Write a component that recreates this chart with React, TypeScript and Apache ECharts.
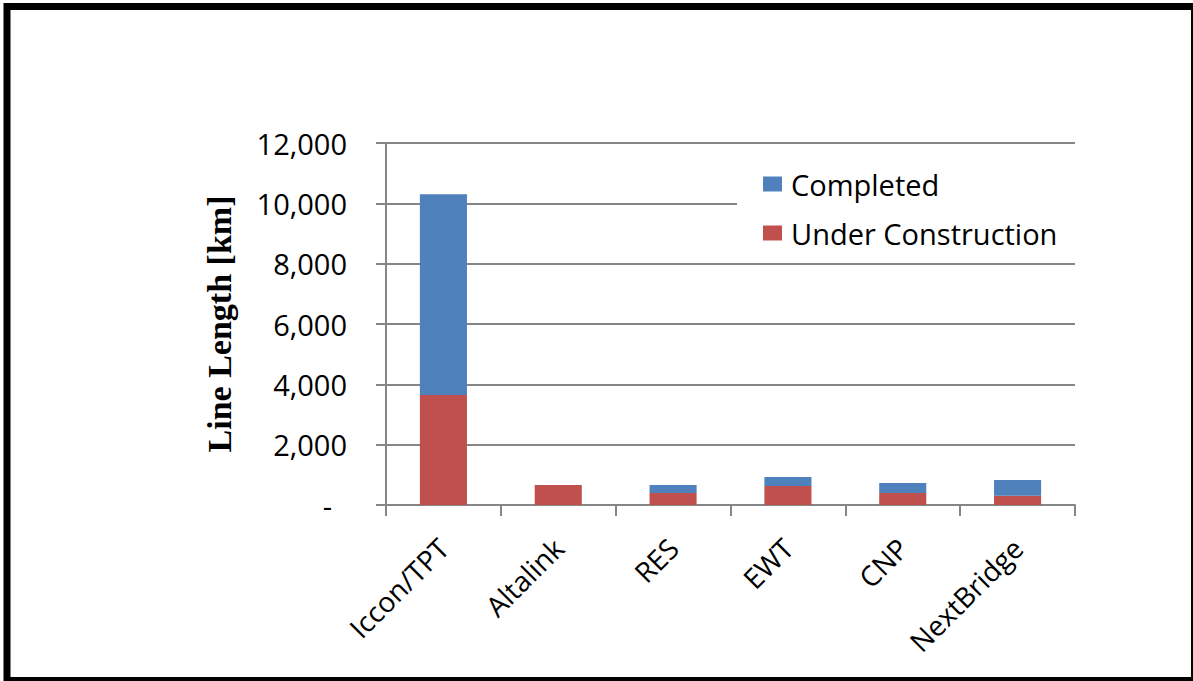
import React, { useEffect, useRef } from "react";
import * as echarts from "echarts";

const categories = ["Iccon/TPT", "Altalink", "RES", "EWT", "CNP", "NextBridge"];
const underConstruction = [3650, 660, 400, 630, 400, 310];
const completed = [6650, 0, 260, 300, 330, 520];
const yTicks = { min: 0, max: 12000, interval: 2000 };
const seriesNames = ["Completed", "Under Construction"];
const yTitle = "Line Length [km]";

export default function App() {
  const ref = useRef<HTMLDivElement>(null);
  useEffect(() => {
    if (!ref.current) return;
    const chart = echarts.init(ref.current, undefined, { renderer: "svg" });
    const gray = "#868686";
    chart.setOption({
      animation: false,
      backgroundColor: "#ffffff",
      textStyle: { fontFamily: "Open Sans" },
      graphic: [
        {
          type: "rect",
          shape: { x: 7, y: 6.5, width: 1187.5, height: 674 },
          style: { fill: "none", stroke: "#000", lineWidth: 7 },
          z: 100,
        },
      ],
      grid: { left: 386, top: 143, width: 689, height: 362, containLabel: false },
      legend: {
        data: seriesNames,
        orient: "vertical",
        left: 737,
        top: 159,
        padding: [10, 40, 10, 26],
        backgroundColor: "#ffffff",
        itemWidth: 19,
        itemHeight: 15,
        itemGap: 19,
        icon: "rect",
        textStyle: { fontFamily: "Open Sans", fontSize: 29, color: "#000", lineHeight: 30, padding: [0, 0, 0, 4] },
      },
      xAxis: {
        type: "category",
        data: categories,
        axisLine: { lineStyle: { color: gray, width: 2 } },
        axisTick: { show: true, length: 11, lineStyle: { color: gray, width: 2 } },
        axisLabel: {
          rotate: 45,
          margin: 38,
          fontFamily: "Open Sans",
          fontSize: 28,
          color: "#000",
          interval: 0,
        },
      },
      yAxis: {
        type: "value",
        min: yTicks.min,
        max: yTicks.max,
        interval: yTicks.interval,
        name: yTitle,
        nameLocation: "middle",
        nameGap: 150,
        nameRotate: 90,
        nameTextStyle: {
          fontFamily: "Liberation Serif",
          fontWeight: "bold",
          fontSize: 34,
          color: "#000",
        },
        axisLine: { show: true, lineStyle: { color: gray, width: 2 } },
        axisTick: { show: true, length: 10, lineStyle: { color: gray, width: 2 } },
        splitLine: { show: true, lineStyle: { color: gray, width: 2 } },
        axisLabel: {
          margin: 39,
          fontFamily: "Open Sans",
          fontSize: 29,
          color: "#000",
          formatter: (v: number) =>
            v === 0 ? "{d|-}" : v.toLocaleString("en-US"),
          rich: {
            d: { fontFamily: "Open Sans", fontSize: 29, color: "#000", padding: [0, 15, 0, 0] },
          },
        },
      },
      series: [
        {
          name: "Under Construction",
          type: "bar",
          stack: "total",
          data: underConstruction,
          barWidth: "41%",
          itemStyle: { color: "#C0504D" },
        },
        {
          name: "Completed",
          type: "bar",
          stack: "total",
          data: completed,
          barWidth: "41%",
          itemStyle: { color: "#4F81BD" },
        },
      ],
    });
    return () => chart.dispose();
  }, []);
  return (
    <div
      ref={ref}
      style={{ position: "absolute", left: 0, top: 0, width: 1193, height: 681 }}
    />
  );
}
